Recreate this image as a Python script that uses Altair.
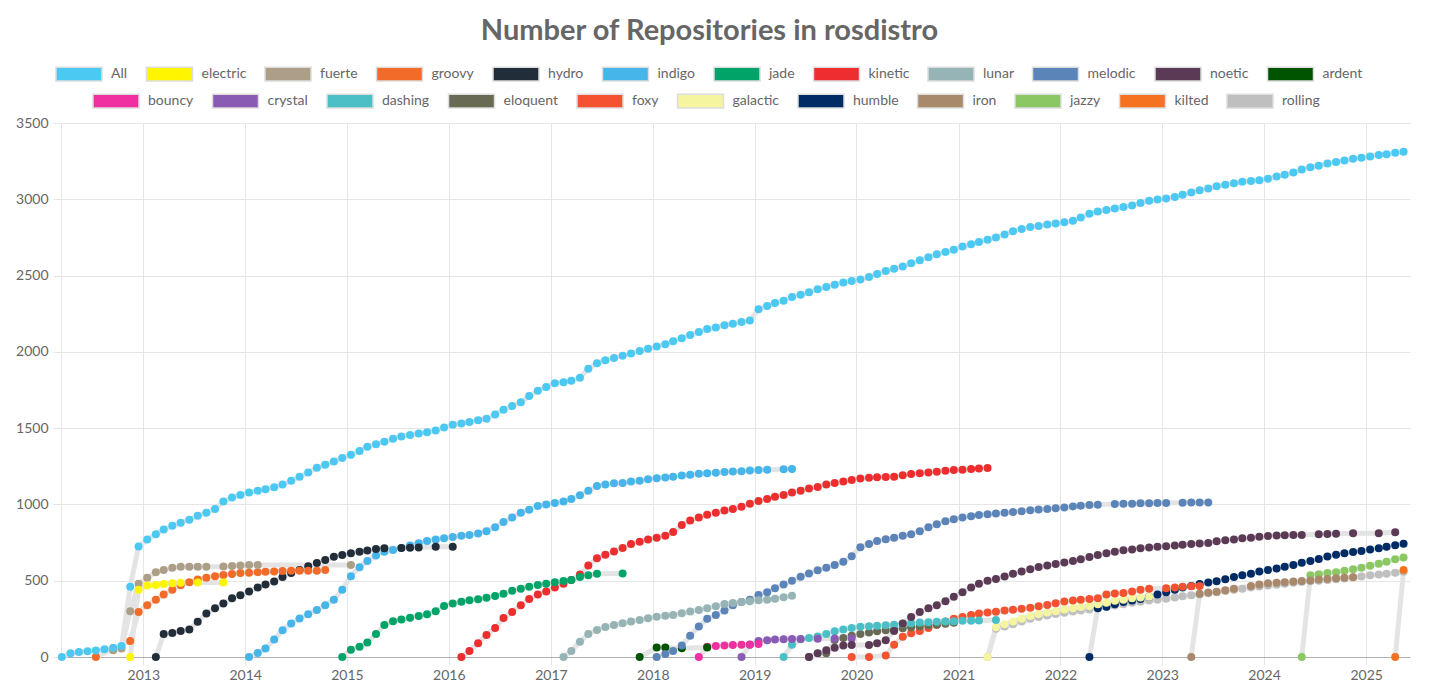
import altair as alt
import pandas as pd

SERIES = ["All", "electric", "fuerte", "groovy", "hydro", "indigo", "jade", "kinetic",
          "lunar", "melodic", "noetic", "ardent",
          "bouncy", "crystal", "dashing", "eloquent", "foxy", "galactic", "humble",
          "iron", "jazzy", "kilted", "rolling"]
COLORS = ["#4BC9F2", "#FFF500", "#AD9F87", "#F26B29", "#222D3A", "#45B5EA", "#00A468", "#EE2E2E",
          "#96B4B5", "#5B84B9", "#5B3A56", "#005400",
          "#F030A1", "#8A5BB3", "#4AC0C6", "#686A54", "#F45230", "#F5F5A0", "#002B65",
          "#A9896C", "#8BC863", "#F57220", "#BFBFBF"]
ROW1 = SERIES[:12]
ROW2 = SERIES[12:]

# first month of each series (values are monthly, None = no sample that month)
START = {
    "All": "2012-03", "electric": "2012-11", "fuerte": "2012-09", "groovy": "2012-07",
    "hydro": "2013-02", "indigo": "2014-01", "jade": "2014-12", "kinetic": "2016-02",
    "lunar": "2017-02", "melodic": "2018-01", "noetic": "2019-07", "ardent": "2017-11",
    "bouncy": "2018-06", "crystal": "2018-11", "dashing": "2019-04", "eloquent": "2019-07",
    "foxy": "2019-12", "galactic": "2021-04", "humble": "2022-04", "iron": "2023-04",
    "jazzy": "2024-05", "kilted": "2025-04", "rolling": "2021-04",
}

all_values = [0, 25, 33, 38, 42, 50, 60, 72, 460, 725,
              770, 805, 835, 860, 880, 900, 925, 945, 970, 1020, 1045, 1062,
              1078, 1090, 1100, 1112, 1130, 1155, 1182, 1210, 1240, 1260, 1282, 1305,
              1325, 1350, 1378, 1395, 1410, 1430, 1446, 1455, 1465, 1473, 1485, 1505,
              1522, 1530, 1540, 1552, 1562, 1590, 1620, 1645, 1670, 1710, 1745, 1770,
              1795, 1800, 1810, 1830, 1890, 1925, 1945, 1960, 1975, 1990, 2005, 2020,
              2035, 2050, 2070, 2090, 2110, 2130, 2150, 2160, 2175, 2185, 2195, 2205,
              2280, 2300, 2320, 2335, 2360, 2375, 2390, 2410, 2425, 2440, 2455, 2465,
              2475, 2490, 2510, 2530, 2545, 2560, 2580, 2600, 2620, 2640, 2655, 2670,
              2690, 2705, 2720, 2735, 2750, 2770, 2790, 2805, 2818, 2825, 2835, 2842,
              2850, 2860, 2880, 2905, 2920, 2930, 2940, 2950, 2960, 2975, 2990, 2998,
              3005, 3015, 3030, 3045, 3060, 3070, 3085, 3095, 3105, 3115, 3120, 3125,
              3135, 3150, 3160, 3175, 3195, 3210, 3220, 3235, 3245, 3255, 3265, 3272,
              3280, 3290, 3295, 3305, 3312]
electric_values = [0, 440, 468, 472, 478, 483, 487, None, 488, None, None, 488]
fuerte_values = [45, 55, 300, 480, 520, 555, 570, 585, 592, 592, 592, 592, None, 593, 597, 600,
                 603, 603, None, None, None, None, None, None, None, None, None, None, 603]
groovy_values = [0, None, None, None, 105, 295,
                 340, 375, 410, 440, 470, 490, 508, 520, 530, 537, 544, 550,
                 553, 556, 559, 561, 563, 565, 566, 566, 566, 570]
hydro_values = [0, 150, 157, 170, 180, 231, 285, 320, 350, 385, 405,
                430, 455, 475, 495, 525, 550, 570, 595, 616, 635, 657, 668,
                680, 690, 698, 708, 712, None, 714, 716, 718, None, 722, None, 723]
indigo_values = [0, 26, 55, 115, 175, 220, 253, 280, 308, 340, 376, 440,
                 530, 588, 630, 665, 690, 701, 715, 730, 745, 760, 770, 778,
                 786, 795, 800, 810, 825, 850, 885, 915, 945, 965, 990, 1000,
                 1010, 1020, 1035, 1060, 1090, 1120, 1130, 1138, 1140, 1150, 1156, 1165,
                 1172, 1177, 1182, 1190, 1195, 1201, 1205, 1208, 1212, 1216, 1218, 1222,
                 1226, 1228, None, 1230, 1232]
jade_values = [0, 48, 68, 95, 150, 210, 235, 245, 258, 268, 280, 300, 335,
               350, 362, 372, 378, 388, 400, 415, 435, 448, 460, 472, 480,
               490, 498, 505, 525, 535, 545, None, None, 548]
kinetic_values = [0, 40, 90, 145, 190, 255, 295, 340, 380, 410, 430,
                  455, 480, 505, 540, 600, 647, 670, 692, 715, 740, 755, 770,
                  782, 795, 820, 865, 895, 915, 932, 945, 960, 970, 985, 1005,
                  1022, 1035, 1050, 1062, 1078, 1090, 1105, 1115, 1130, 1140, 1150, 1160,
                  1170, 1175, 1178, 1180, 1182, 1192, 1200, 1205, 1210, 1215, 1220, 1225,
                  1228, 1232, 1235, 1238]
lunar_values = [0, 40, 100, 150, 177, 197, 210, 221, 232, 243, 254,
                264, 270, 276, 287, 298, 308, 320, 333, 348, 354, 360, 366,
                372, 376, 382, 392, 402]
melodic_values = [0, 20, 40, 75, 140, 200, 250, 275, 305, 340, 360, 375,
                  406, 425, 450, 475, 500, 526, 548, 568, 585, 603, 625, 660,
                  720, 740, 760, 772, 782, 795, 805, 825, 850, 870, 890, 903,
                  915, 923, 930, 935, 940, 945, 950, 955, 962, 966, 970, 975,
                  980, 987, 992, 996, 998, None, 1003, 1005, 1005, 1007, 1007, 1009,
                  1010, None, 1011, 1012, 1013, 1013]
noetic_values = [0, 24, 45, 60, 75, 79,
                 None, 79, 90, 110, 170, 220, 262, 295, 320, 340, 365, 395,
                 425, 455, 480, 500, 512, 528, 545, 560, 575, 590, 600, 610,
                 620, 630, 640, 655, 668, 680, 690, 700, 705, 712, 718, 722,
                 726, 730, 735, 740, 744, 748, 758, 765, 770, 778, 782, 788,
                 793, 796, 798, 800, 800, None, 805, 806, 808, None, 811, None,
                 None, 811, None, 817]
ardent_values = [0, None, 62, 63, None, 58, None, None, 63]
bouncy_values = [0, 68, 72, 76, 78, 80, 82, 85]
crystal_values = [0, 80, 105, 110, 114, 117, 118, 118, None, 119, None, 121, None, 122]
dashing_values = [0, 80, 116, 125, 135, 150, 168, 180, 190,
                  198, 202, 205, 208, 212, 218, 222, 226, 228, 231, 233, 235,
                  237, 238, 240, None, 243]
eloquent_values = [0, None, 25, 111, 125, 140,
                   150, 160, 168, 175, 180, 188, 195, 200, 206, 212, 218, 225]
foxy_values = [0, None, 0, None, 10, 80, 133, 155, 170, 190, 212, 232, 250,
               262, 275, 285, 292, 297, 305, 310, 316, 322, 332, 341, 352,
               363, 370, 376, 380, 385, 410, 417, 420, 430, 440, 448, None,
               450, 455, 461, 463, 466]
galactic_values = [0, 195, 215, 232, 250, 268, 282, 292, 300,
                   312, 320, 328, 335, 345, 355, 368, 375, 385, 390, 395]
humble_values = [0, 320, 330, 345, 360, 370, 380, 395, 410,
                 425, 440, 455, 465, 478, 488, 496, 510, 525, 535, 545, 560,
                 570, 580, 592, 603, 617, 630, 643, 658, 670, 680, 688, 695,
                 705, 712, 722, 732, 742]
iron_values = [0, 415, 422, 428, 438, 448, None, 465, 475,
               483, 487, 490, 495, 498, 502, 508, 512, 516, 520, 522]
jazzy_values = [0, 535, 542, 550, 556, 565, 575, 585, 598, 612, 625, 640, 652]
kilted_values = [0, 570]
rolling_values = [0, 185, 200, 215, 232, 250, 262, 272, 282,
                  290, 298, 305, 312, 320, 328, 338, 346, 355, 362, 370, 376,
                  382, 390, 398, 405, 410, 418, 425, 432, 440, 448, 455, 462,
                  468, 474, 480, 486, 492, 496, 500, 505, 510, 515, 522, 528,
                  535, 540, 546, 552, 558]

VALUES = {
    "All": all_values, "electric": electric_values, "fuerte": fuerte_values,
    "groovy": groovy_values, "hydro": hydro_values, "indigo": indigo_values,
    "jade": jade_values, "kinetic": kinetic_values, "lunar": lunar_values,
    "melodic": melodic_values, "noetic": noetic_values, "ardent": ardent_values,
    "bouncy": bouncy_values, "crystal": crystal_values, "dashing": dashing_values,
    "eloquent": eloquent_values, "foxy": foxy_values, "galactic": galactic_values,
    "humble": humble_values, "iron": iron_values, "jazzy": jazzy_values,
    "kilted": kilted_values, "rolling": rolling_values,
}

rows = []
# later series first so that earlier series are drawn on top
for idx in reversed(range(len(SERIES))):
    name = SERIES[idx]
    y0, m0 = (int(p) for p in START[name].split("-"))
    for i, v in enumerate(VALUES[name]):
        if v is None:
            continue
        m = m0 - 1 + i
        rows.append({
            "series": name,
            "row": 1 if name in ROW1 else 2,
            "date": f"{y0 + m // 12:04d}-{m % 12 + 1:02d}-15",
            "value": v,
        })
df = pd.DataFrame(rows)

FONT = "Lato"
GRID = "#e6e6e6"
TEXT = "#666666"

x_enc = alt.X(
    "date:T",
    scale=alt.Scale(domain=[alt.DateTime(year=2012, month=3, date=12),
                            alt.DateTime(year=2025, month=6, date=7)], nice=False),
    axis=alt.Axis(title=None, format="%Y", tickCount={"interval": "year", "step": 1},
                  labelFont=FONT, labelFontSize=14, labelColor=TEXT, labelPadding=3,
                  gridColor=GRID, tickColor=GRID, tickSize=8, domainColor="#b0b0b0"),
)
y_enc = alt.Y(
    "value:Q",
    scale=alt.Scale(domain=[0, 3500], nice=False),
    axis=alt.Axis(title=None, values=[0, 500, 1000, 1500, 2000, 2500, 3000, 3500],
                  format="d",
                  labelFont=FONT, labelFontSize=14, labelColor=TEXT, labelPadding=5,
                  gridColor=GRID, tickColor=GRID, tickSize=8, domainColor=GRID),
)

leg_common = dict(
    title=None, orient="none", direction="horizontal",
    symbolType="M-1,-0.3H1V0.3H-1Z", symbolSize=2116,
    symbolStrokeColor="#dddddd", symbolStrokeWidth=1.5, symbolOpacity=1,
    labelFont=FONT, labelFontSize=14, labelColor=TEXT, labelOffset=8,
    columnPadding=15.5,
)

base = alt.Chart(df)

lines = base.mark_line(color="#e4e4e4", strokeWidth=5).encode(
    x=x_enc, y=y_enc, detail="series:N"
)

pts2 = base.transform_filter("datum.row == 2").mark_circle(size=64, opacity=1).encode(
    x=x_enc, y=y_enc,
    fill=alt.Fill("series:N", scale=alt.Scale(domain=ROW2, range=COLORS[12:]),
                  legend=alt.Legend(columns=11, legendX=31, legendY=-46, **leg_common)),
)

pts1 = base.transform_filter("datum.row == 1").mark_circle(size=64, opacity=1).encode(
    x=x_enc, y=y_enc,
    color=alt.Color("series:N", scale=alt.Scale(domain=ROW1, range=COLORS[:12]),
                    legend=alt.Legend(columns=12, legendX=-6, legendY=-73, **leg_common)),
)

chart = alt.layer(lines, pts2, pts1).properties(
    width=1349, height=534,
    title=alt.TitleParams("Number of Repositories in rosdistro", font=FONT, fontSize=29,
                          fontWeight="bold", color=TEXT, anchor="middle", frame="group",
                          dx=-26, offset=4),
    autosize=alt.AutoSizeParams(type="none"),
    padding={"left": 53, "top": 115, "right": 13, "bottom": 26},
).configure_view(strokeWidth=0)

chart.save("out.html", embed_options={"renderer": "svg", "actions": False})
